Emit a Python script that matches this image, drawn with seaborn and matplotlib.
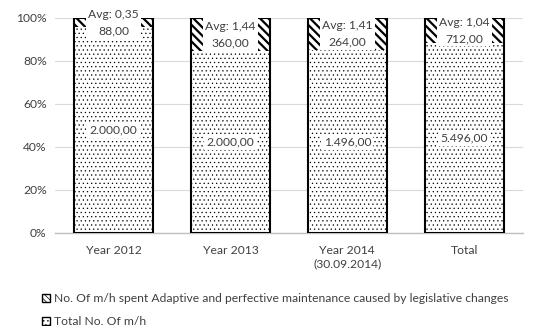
import matplotlib
matplotlib.use("Agg")
import matplotlib.pyplot as plt
import seaborn as sns
import pandas as pd
from matplotlib.patches import Patch

categories = ["Year 2012", "Year 2013", "Year 2014\n(30.09.2014)", "Total"]
total_mh = [2000, 2000, 1496, 5496]
adaptive_mh = [88, 360, 264, 712]
avg_values = [0.35, 1.44, 1.41, 1.04]
y_ticks = [0, 20, 40, 60, 80, 100]
legend_labels = ["No. Of m/h spent Adaptive and perfective maintenance caused by legislative changes",
                 "Total No. Of m/h"]

def eu(v):
    s = f"{v:,.2f}"
    return s.replace(",", "X").replace(".", ",").replace("X", ".")

df = pd.DataFrame({"cat": categories, "total": total_mh, "adapt": adaptive_mh, "avg": avg_values})
df["sum"] = df["total"] + df["adapt"]
df["pct_total"] = df["total"] / df["sum"] * 100
df["pct_full"] = 100.0

sns.set_theme(style="white")
plt.rcParams["font.family"] = ["Lato", "DejaVu Sans"]
text_color = "#404040"
fs = 8.7

fig = plt.figure(figsize=(5.45, 3.26), dpi=100)
ax = fig.add_axes([0.101, 0.2853, 0.858, 0.6595])

plt.rcParams["hatch.linewidth"] = 1.6
sns.barplot(data=df, x="cat", y="pct_full", color="white", edgecolor="black",
            hatch="\\\\\\\\", linewidth=0, width=0.675, ax=ax, saturation=1, zorder=2)
plt.rcParams["hatch.linewidth"] = 0.4
sns.barplot(data=df, x="cat", y="pct_total", color="white", edgecolor="black",
            hatch="....", linewidth=0, width=0.675, ax=ax, saturation=1, zorder=3)
sns.barplot(data=df, x="cat", y="pct_full", color="black", fill=False,
            linewidth=1.5, width=0.675, ax=ax, zorder=4)

ax.set_ylim(0, 100)
ax.set_yticks(y_ticks)
ax.set_yticklabels([f"{t}%" for t in y_ticks], fontsize=fs, color=text_color)
ax.tick_params(axis="x", labelsize=fs, colors=text_color, length=0, pad=9)
ax.tick_params(axis="y", length=0, pad=6)
ax.set_xlabel("")
ax.set_ylabel("")
ax.grid(axis="y", color="#d9d9d9", linewidth=0.8, zorder=0)
ax.set_axisbelow(True)
for s in ["top", "right", "left"]:
    ax.spines[s].set_visible(False)
ax.spines["bottom"].set_color("#bfbfbf")
ax.spines["bottom"].set_linewidth(1.0)
ax.set_xlim(-0.5, 3.5)

box = dict(boxstyle="square,pad=0.2", facecolor="white", edgecolor="none")
for i, row in df.iterrows():
    ax.text(i, row["pct_total"] / 2, eu(row["total"]), ha="center", va="center",
            fontsize=fs, color=text_color, bbox=box, zorder=5)
    ytop = (row["pct_total"] + 100) / 2
    avg_txt = f"{row['avg']:.2f}".replace(".", ",")
    ax.text(i, ytop, f"Avg: {avg_txt}\n{eu(row['adapt'])}",
            ha="center", va="center", fontsize=fs, color=text_color, bbox=box,
            zorder=5, linespacing=1.6, clip_on=False)

plt.rcParams["hatch.linewidth"] = 1.2
handles = [Patch(facecolor="white", edgecolor="black", hatch="\\\\\\\\\\\\", linewidth=1)]
plt.rcParams["hatch.linewidth"] = 0.5
handles.append(Patch(facecolor="white", edgecolor="black", hatch="....", linewidth=1))
fig.legend(handles, legend_labels, loc="upper left", bbox_to_anchor=(0.077, 0.1),
           frameon=False, fontsize=fs, handlelength=0.7, handleheight=0.7,
           handletextpad=0.3, labelspacing=1.0, borderaxespad=0, borderpad=0,
           labelcolor=text_color)

fig.savefig("out.png", dpi=100)
